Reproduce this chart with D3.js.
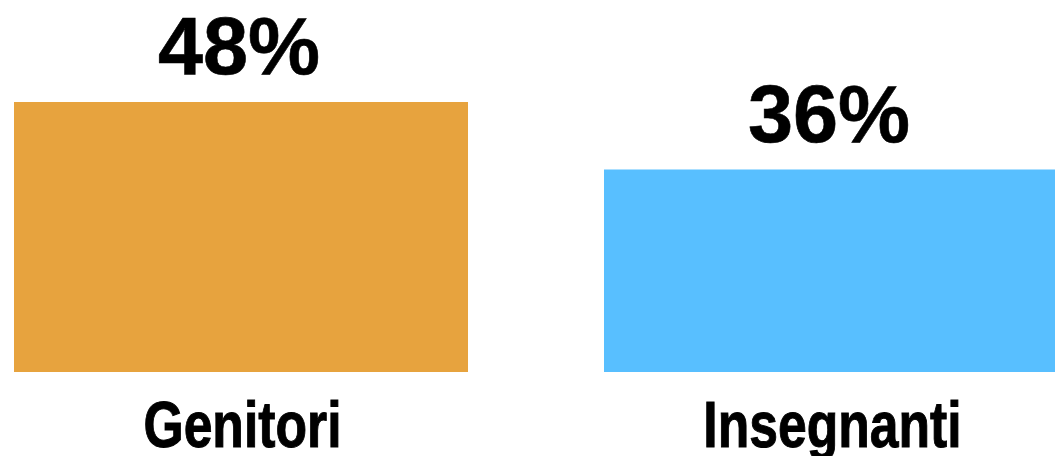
<!DOCTYPE html>
<html><head><meta charset="utf-8">
<script src="https://cdn.jsdelivr.net/npm/d3@7"></script>
<style>html,body{margin:0;padding:0;background:#fff;overflow:hidden}</style>
</head><body>
<svg id="c" width="1055" height="456"></svg>
<script>
const categories = ["Genitori", "Insegnanti"];
const values = [48, 36];
const colors = ["#E7A33E", "#58BFFF"];

const svg = d3.select("#c");
const x = d3.scaleBand().domain(categories).range([14, 1058]).paddingInner(0.2305).paddingOuter(0);
const y = d3.scaleLinear().domain([0, 48]).range([372, 102]);

svg.selectAll("rect.bar").data(categories).enter().append("rect")
  .attr("class", "bar")
  .attr("x", d => x(d))
  .attr("width", x.bandwidth())
  .attr("y", (d, i) => y(values[i]))
  .attr("height", (d, i) => y(0) - y(values[i]))
  .attr("fill", (d, i) => colors[i]);

svg.selectAll("text.val").data(categories).enter().append("text")
  .attr("class", "val")
  .attr("x", d => x(d) + x.bandwidth() / 2 - 2)
  .attr("y", (d, i) => y(values[i]) - 28)
  .attr("text-anchor", "middle")
  .attr("font-family", "'Liberation Sans', Arimo, Helvetica, Arial, sans-serif")
  .attr("font-weight", "bold")
  .attr("font-size", 81)
  .attr("fill", "#000")
  .attr("stroke", "#000")
  .attr("stroke-width", 0.6)
  .text((d, i) => values[i] + "%");

const cats = svg.selectAll("text.cat").data(categories).enter().append("text")
  .attr("class", "cat")
  .attr("x", d => x(d) + x.bandwidth() / 2 + 1.5)
  .attr("y", 447)
  .attr("text-anchor", "middle")
  .attr("font-family", "'Liberation Sans', Arimo, Helvetica, Arial, sans-serif")
  .attr("font-weight", "bold")
  .attr("font-size", 65)
  .attr("fill", "#000")
  .attr("stroke", "#000")
  .attr("stroke-width", 1)
  .text(d => d);
cats.each(function() {
  const w = this.getComputedTextLength();
  d3.select(this).attr("textLength", w * 0.795).attr("lengthAdjust", "spacingAndGlyphs");
});
</script>
</body></html>
